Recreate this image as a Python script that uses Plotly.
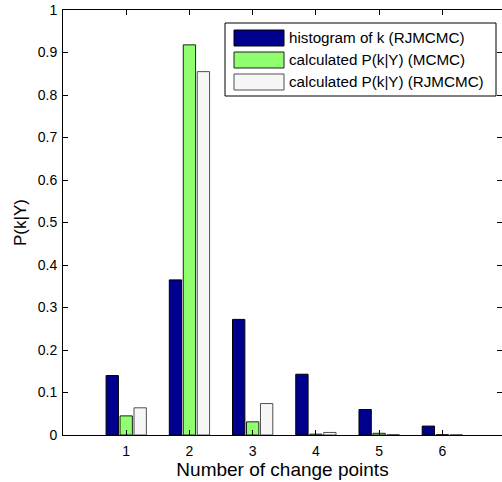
import plotly.graph_objects as go

categories = [1, 2, 3, 4, 5, 6]
hist_rjmcmc = [0.140, 0.365, 0.272, 0.143, 0.060, 0.021]
calc_mcmc = [0.045, 0.918, 0.031, 0.002, 0.004, 0.001]
calc_rjmcmc = [0.064, 0.855, 0.074, 0.006, 0.001, 0.0005]
series_names = ["histogram of k (RJMCMC)", "calculated P(k|Y) (MCMC)", "calculated P(k|Y) (RJMCMC)"]
y_ticks = [0, 0.1, 0.2, 0.3, 0.4, 0.5, 0.6, 0.7, 0.8, 0.9, 1]

colors = ["#00008F", "#8FFF70", "#F7F7F7"]
edge = ["#000000", "#202020", "#505050"]

W, H = 502, 482
ML, MT, MB, MR = 63, 10, 47, 0
PW, PH = W - ML - MR, H - MT - MB
FONT = "Liberation Sans, Arial, sans-serif"

fig = go.Figure()
for vals, name, c, e in zip([hist_rjmcmc, calc_mcmc, calc_rjmcmc], series_names, colors, edge):
    fig.add_trace(go.Bar(x=categories, y=vals, name=name, marker=dict(color=c, line=dict(color=e, width=1)),
                         showlegend=False))
# invisible trace to hold right-hand mirror axis ticks
fig.add_trace(go.Scatter(x=[None], y=[None], yaxis="y2", showlegend=False, hoverinfo="skip"))

def px_x(p):
    return (p - ML) / PW

def px_y(p):
    return (H - MB - p) / PH

shapes = []
annotations = []
# legend box
shapes.append(dict(type="rect", xref="paper", yref="paper", x0=px_x(225), x1=px_x(496), y0=px_y(96), y1=px_y(23),
                   line=dict(color="black", width=1), fillcolor="white", layer="above"))
row_centers = [38, 60, 82]
for name, c, e, yc in zip(series_names, colors, edge, row_centers):
    shapes.append(dict(type="rect", xref="paper", yref="paper", x0=px_x(234), x1=px_x(284),
                       y0=px_y(yc + 8), y1=px_y(yc - 8), line=dict(color=e, width=1), fillcolor=c, layer="above"))
    annotations.append(dict(xref="paper", yref="paper", x=px_x(287), y=px_y(yc - 0.5), text=name, showarrow=False,
                            xanchor="left", yanchor="middle", font=dict(family=FONT, size=15.2, color="black")))

fig.update_layout(
    width=W, height=H,
    margin=dict(l=ML, r=MR, t=MT, b=MB, pad=0),
    paper_bgcolor="white", plot_bgcolor="white",
    barmode="group", bargap=0.337, bargroupgap=0.118,
    font=dict(family=FONT, size=14, color="black"),
    shapes=shapes, annotations=annotations,
    xaxis=dict(range=[0, 6.944], tickvals=categories, ticktext=[str(c) for c in categories],
               showline=True, linecolor="black", linewidth=1, mirror="ticks", automargin=False,
               ticks="inside", ticklen=5, tickcolor="black", showgrid=False, zeroline=False,
               tickfont=dict(family=FONT, size=14), ticklabelstandoff=3,
               title=dict(text="Number of change points", font=dict(family=FONT, size=19), standoff=0)),
    yaxis=dict(range=[0, 1], tickvals=y_ticks, ticktext=[f"{v:g}" for v in y_ticks],
               showline=True, linecolor="black", linewidth=1, mirror=False, automargin=False,
               ticks="inside", ticklen=5, tickcolor="black", showgrid=False, zeroline=False,
               tickfont=dict(family=FONT, size=14), ticklabelstandoff=2,
               title=dict(text="P(k|Y)", font=dict(family=FONT, size=17), standoff=6)),
    yaxis2=dict(range=[0, 1], tickvals=y_ticks, overlaying="y", side="right", showline=False,
                ticks="inside", ticklen=5, tickcolor="black", showticklabels=False, showgrid=False,
                zeroline=False, automargin=False),
)

fig.write_html("out.html", config={"displayModeBar": False},
               post_script="document.body.style.margin='0';document.body.style.overflow='hidden';")
